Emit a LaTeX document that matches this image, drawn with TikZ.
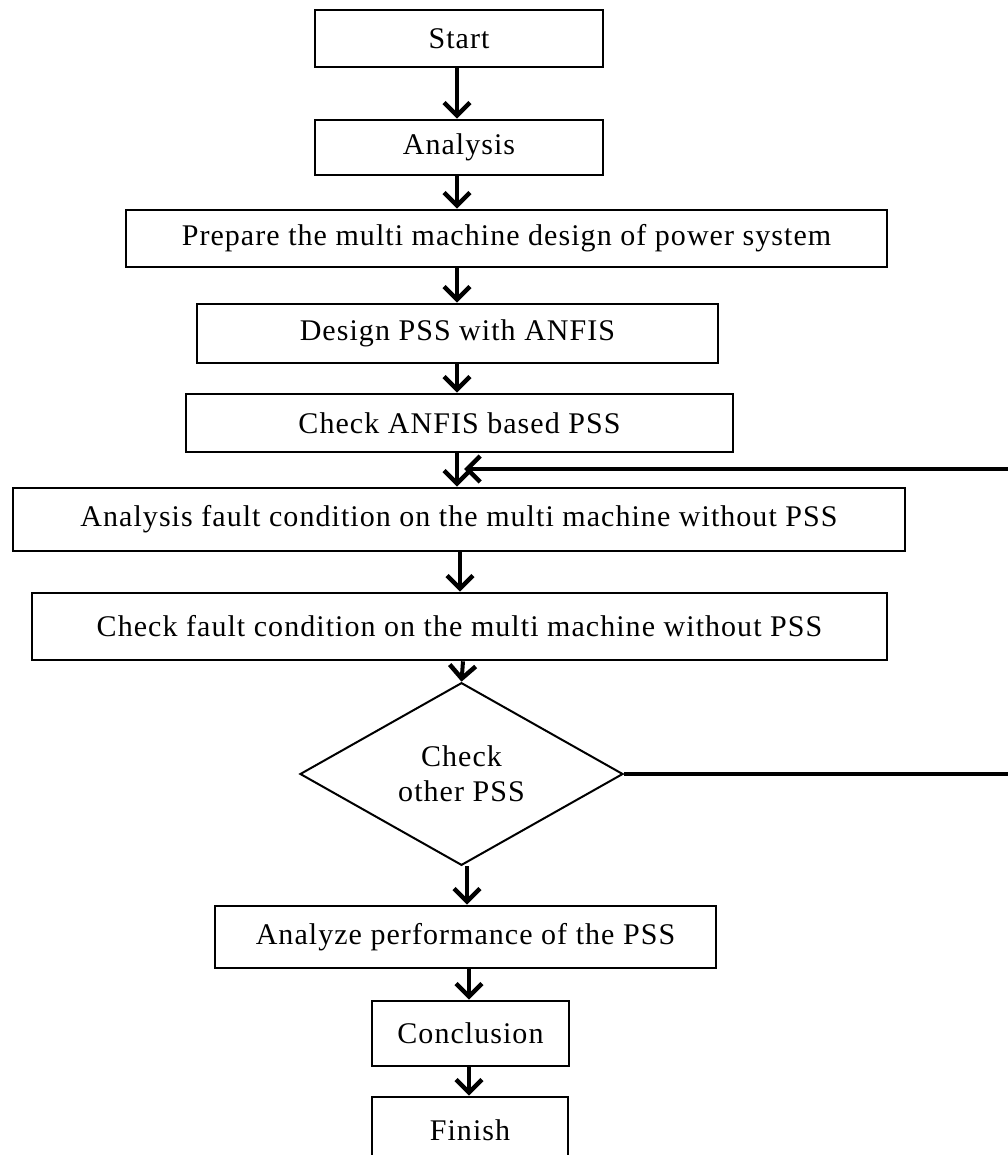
\documentclass[tikz,border=0pt]{standalone}
\usepackage{fontspec}
\setmainfont{Liberation Serif}[LetterSpace=3.5]
\usetikzlibrary{arrows.meta,shapes.geometric}
\begin{document}
\begin{tikzpicture}[x=1pt,y=-1pt,
  box/.style={draw, line width=2.6pt, rectangle, inner sep=0pt, align=center,
    font=\fontsize{30}{35}\selectfont},
  dec/.style={draw, line width=2pt, shape=diamond, inner sep=0pt, align=center,
    minimum width=323pt, minimum height=180pt, font=\fontsize{30}{35}\selectfont},
  arr/.style={line width=4pt, -{Straight Barb[length=13pt,width=26pt,line width=4.5pt]}},
  fb/.style={line width=4.5pt}]
\useasboundingbox[fill=white] (0,0) rectangle (1007,1155);
\node[box, minimum width=288pt, minimum height=57pt] (start) at (459,38.5) {Start};
\node[box, minimum width=288pt, minimum height=55pt] (anal) at (459,147.5) {Analysis};
\node[box, minimum width=761pt, minimum height=57pt] (prep) at (506.5,238.5) {Prepare the multi machine design of power system};
\node[box, minimum width=521pt, minimum height=59pt] (design) at (457.5,333.5) {Design PSS with ANFIS};
\node[box, minimum width=547pt, minimum height=58pt] (chk) at (459.5,423) {Check ANFIS based PSS};
\node[box, minimum width=892pt, minimum height=63pt] (fault) at (459,519.5) {Analysis fault condition on the multi machine without PSS};
\node[box, minimum width=855pt, minimum height=67pt] (cfault) at (459.5,626.5) {Check fault condition on the multi machine without PSS};
\node[dec] (dia) at (461.5,774) {Check\\other PSS};
\node[box, minimum width=501pt, minimum height=62pt] (perf) at (465.5,937) {Analyze performance of the PSS};
\node[box, minimum width=197pt, minimum height=65pt] (concl) at (470.5,1033.5) {Conclusion};
\node[box, minimum width=196pt, minimum height=66pt] (fin) at (470,1130) {Finish};
\coordinate (a1) at (457,0);
\coordinate (a2) at (460,0);
\coordinate (a3) at (463,0);
\coordinate (a4) at (467,0);
\coordinate (a5) at (469,0);
\coordinate (fbx) at (1012,0);
\coordinate (fbtip) at (464,469);
\draw[arr] (start.south -| a1) -- (anal.north -| a1);
\draw[arr] (anal.south -| a1) -- (prep.north -| a1);
\draw[arr] (prep.south -| a1) -- (design.north -| a1);
\draw[arr] (design.south -| a1) -- (chk.north -| a1);
\draw[arr] (chk.south -| a1) -- (fault.north -| a1);
\draw[arr] (fault.south -| a2) -- (cfault.north -| a2);
\draw[arr] (cfault.south -| a3) -- (dia.north);
\draw[arr] (dia.south -| a4) -- (perf.north -| a4);
\draw[arr] (perf.south -| a5) -- (concl.north -| a5);
\draw[arr] (concl.south -| a5) -- (fin.north -| a5);
\draw[fb] (dia.east) -- (dia.east -| fbx) -- (fbx |- fbtip) -- ++(-60,0);
\draw[fb, -{Straight Barb[length=13pt,width=26pt,line width=4.5pt]}] (fbx |- fbtip) -- (fbtip);
\end{tikzpicture}
\end{document}
